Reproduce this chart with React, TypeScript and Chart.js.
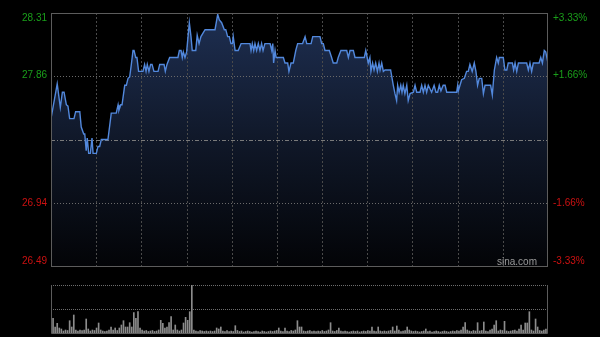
import { useEffect, useRef } from 'react';
import { Chart, registerables } from 'chart.js';

Chart.register(...registerables);

// ---- data ----
const prevClose = 27.4;
const priceMin = 26.49;
const priceMax = 28.31;
const priceTicks = [28.31, 27.86, 27.4, 26.94, 26.49];
const priceTickLabels = ['28.31', '27.86', '', '26.94', '26.49'];
const pctTickLabels = ['+3.33%', '+1.66%', '', '-1.66%', '-3.33%'];
const totalMinutes = 240;
const timeDivisions = 11;
const watermark = 'sina.com';

const minutes = [
  0, 3.0, 4.5, 5.5, 6.3, 7.4, 8.2, 9.0, 11.1, 11.9, 13.9, 14.6, 15.8, 16.3, 17.0, 17.5, 18.2, 19.0, 19.8, 20.3,
  21.9, 22.7, 23.5, 24.3, 27.5, 29.1, 31.5, 32.4, 32.8, 33.7, 34.3, 35.6, 36.4, 37.2, 38.0, 38.8, 39.6, 40.1, 40.9, 41.5,
  42.3, 44.4, 45.2, 45.9, 46.5, 47.3, 48.1, 48.8, 49.7, 51.7, 52.5, 54.6, 55.2, 56.0, 57.3, 61.3, 62.0, 62.8, 63.4, 63.9,
  64.7, 65.5, 66.8, 67.6, 68.2, 69.9, 70.6, 71.5, 72.4, 74.4, 79.2, 80.5, 81.3, 82.4, 83.7, 84.4, 85.3, 86.1, 86.9, 87.6,
  88.0, 88.9, 90.4, 91.8, 96.1, 96.6, 97.2, 97.9, 98.5, 99.3, 100.1, 100.9, 101.7, 102.4, 103.3, 105.8, 106.6, 107.1, 107.5, 108.2,
  108.7, 112.2, 113.0, 114.3, 114.9, 115.9, 117.0, 118.2, 119.1, 121.5, 122.7, 123.5, 125.6, 126.4, 129.9, 130.7, 131.5, 132.3, 134.4, 135.5,
  136.3, 138.0, 138.7, 140.0, 142.8, 143.6, 144.4, 146.0, 146.8, 151.3, 152.0, 153.2, 154.0, 154.5, 155.3, 156.0, 156.8, 157.6, 158.4, 158.9,
  159.7, 160.5, 161.3, 164.0, 165.3, 166.1, 166.9, 167.4, 168.1, 168.9, 169.5, 170.1, 170.9, 171.8, 172.5, 173.4, 175.0, 175.8, 176.6, 178.2,
  179.0, 179.8, 180.6, 181.4, 182.2, 183.8, 185.0, 185.9, 186.7, 187.5, 188.3, 189.4, 190.3, 191.1, 195.9, 196.4, 196.7, 197.5, 198.3, 199.6,
  200.7, 201.5, 202.3, 203.4, 204.4, 205.2, 206.0, 206.8, 208.0, 208.8, 209.6, 212.3, 213.1, 214.1, 215.2, 216.0, 216.5, 218.4, 219.2, 220.1,
  220.8, 222.8, 223.4, 224.1, 224.9, 225.7, 229.7, 230.5, 231.3, 232.1, 232.9, 235.7, 236.5, 237.3, 238.2, 238.9, 240,
];

const prices = [
  27.55, 27.8, 27.63, 27.74, 27.74, 27.65, 27.64, 27.55, 27.55, 27.6, 27.6, 27.49, 27.44, 27.44, 27.32, 27.41, 27.3, 27.3, 27.41, 27.3,
  27.3, 27.35, 27.35, 27.4, 27.4, 27.59, 27.59, 27.65, 27.61, 27.65, 27.65, 27.79, 27.79, 27.84, 27.85, 27.94, 28.04, 28.04, 27.99, 27.99,
  27.89, 27.89, 27.94, 27.89, 27.94, 27.89, 27.94, 27.94, 27.89, 27.89, 27.94, 27.94, 27.89, 27.94, 27.99, 27.99, 28.04, 28.04, 27.99, 28.03,
  27.99, 28.03, 28.24, 28.14, 28.04, 28.04, 28.15, 28.09, 28.14, 28.19, 28.19, 28.3, 28.26, 28.24, 28.19, 28.19, 28.14, 28.14, 28.09, 28.09,
  28.14, 28.04, 28.04, 28.09, 28.09, 28.04, 28.09, 28.04, 28.09, 28.04, 28.09, 28.04, 28.09, 28.04, 28.09, 28.09, 28.04, 28.09, 27.95, 28.04,
  27.99, 27.99, 27.95, 27.95, 27.89, 27.95, 27.95, 28.04, 28.09, 28.09, 28.14, 28.09, 28.09, 28.14, 28.14, 28.09, 28.09, 28.04, 28.04, 27.99,
  27.95, 27.95, 27.99, 28.04, 28.04, 27.99, 28.04, 28.04, 27.99, 27.99, 28.04, 27.95, 27.99, 27.89, 27.95, 27.9, 27.95, 27.89, 27.95, 27.9,
  27.95, 27.89, 27.9, 27.9, 27.79, 27.73, 27.68, 27.79, 27.74, 27.79, 27.74, 27.79, 27.73, 27.79, 27.68, 27.73, 27.74, 27.79, 27.74, 27.74,
  27.79, 27.74, 27.79, 27.74, 27.79, 27.74, 27.79, 27.74, 27.74, 27.79, 27.75, 27.79, 27.79, 27.74, 27.74, 27.79, 27.75, 27.79, 27.83, 27.84,
  27.89, 27.89, 27.94, 27.89, 27.95, 27.89, 27.79, 27.84, 27.84, 27.73, 27.79, 27.79, 27.72, 27.9, 27.99, 27.95, 27.99, 27.99, 27.9, 27.9,
  27.95, 27.95, 27.9, 27.95, 27.89, 27.95, 27.95, 27.9, 27.95, 27.89, 27.95, 27.95, 27.99, 27.95, 28.04, 28.03, 27.95,
];

const volumeMax = 4800;
const volumes = [
  1970, 1470, 600, 970, 500, 400, 200, 300, 250, 1230,
  600, 1800, 300, 200, 300, 250, 300, 1400, 400, 200,
  300, 250, 500, 1000, 300, 200, 150, 200, 300, 600,
  300, 500, 250, 500, 800, 1230, 600, 600, 1030, 600,
  2030, 1470, 2130, 500, 300, 200, 250, 150, 200, 250,
  150, 200, 300, 1270, 970, 500, 600, 1030, 1630, 300,
  800, 300, 200, 300, 1000, 1570, 1270, 2130, 4800, 300,
  200, 150, 250, 200, 150, 200, 150, 200, 150, 200,
  500, 400, 600, 200, 150, 250, 150, 200, 150, 730,
  250, 150, 200, 100, 150, 200, 150, 100, 150, 200,
  150, 100, 200, 150, 100, 150, 200, 150, 200, 250,
  500, 200, 150, 500, 200, 150, 250, 200, 300, 1230,
  600, 600, 200, 150, 200, 250, 150, 200, 150, 200,
  150, 250, 150, 200, 300, 1030, 200, 150, 250, 500,
  200, 150, 200, 150, 100, 150, 200, 150, 200, 100,
  150, 200, 150, 250, 200, 600, 200, 150, 600, 200,
  150, 200, 150, 200, 250, 600, 200, 700, 300, 150,
  200, 250, 600, 300, 200, 150, 200, 150, 100, 150,
  200, 400, 150, 200, 100, 150, 200, 150, 100, 150,
  200, 150, 100, 150, 200, 150, 250, 200, 300, 600,
  1030, 300, 200, 150, 250, 200, 1030, 200, 250, 1100,
  200, 150, 300, 400, 800, 1230, 200, 300, 250, 1170,
  200, 150, 200, 250, 300, 200, 400, 800, 300, 1000,
  1000, 2130, 300, 200, 1400, 600, 250, 200, 300, 400,
  3970,
];
const volumeLabels = volumes.map((_, i) => String(i));

// ---- styles ----
const FONT = '10px "Liberation Sans", Arial, sans-serif';
const GREEN = '#1a9f1a';
const RED = '#cc1111';
const FRAME = '#5c5c5c';

const priceDecor = {
  id: 'priceDecor',
  beforeDatasetDraw(chart: any) {
    const { ctx, chartArea: a, scales } = chart;
    const xs = scales.x;
    const ys = scales.y;
    ctx.save();
    ctx.lineWidth = 1;
    // vertical grid
    ctx.strokeStyle = '#4a4a4a';
    ctx.setLineDash([2, 2]);
    for (let i = 1; i < timeDivisions; i++) {
      const px = Math.round(xs.getPixelForValue((i * totalMinutes) / timeDivisions)) + 0.5;
      ctx.beginPath();
      ctx.moveTo(px, a.top);
      ctx.lineTo(px, a.bottom);
      ctx.stroke();
    }
    // horizontal grid
    priceTicks.forEach((v, i) => {
      if (i === 0 || i === priceTicks.length - 1) return;
      const py = Math.round(ys.getPixelForValue(v)) + 0.5;
      if (v === prevClose) {
        ctx.strokeStyle = '#7a7a7a';
        ctx.setLineDash([4, 2, 1, 2]);
      } else {
        ctx.strokeStyle = '#6a6a6a';
        ctx.setLineDash([1, 2]);
      }
      ctx.beginPath();
      ctx.moveTo(a.left, py);
      ctx.lineTo(a.right, py);
      ctx.stroke();
    });
    ctx.restore();
  },
  afterDraw(chart: any) {
    const { ctx, chartArea: a, scales } = chart;
    const ys = scales.y;
    ctx.save();
    ctx.lineWidth = 1;
    ctx.setLineDash([]);
    ctx.strokeStyle = FRAME;
    ctx.strokeRect(Math.round(a.left) + 0.5, Math.round(a.top) + 0.5, Math.round(a.right - a.left) - 1, Math.round(a.bottom - a.top));
    ctx.font = FONT;
    priceTicks.forEach((v, i) => {
      if (!priceTickLabels[i]) return;
      const py = ys.getPixelForValue(v);
      ctx.fillStyle = v > prevClose ? GREEN : RED;
      ctx.textBaseline = i === 0 ? 'top' : i === priceTicks.length - 1 ? 'bottom' : 'middle';
      ctx.textAlign = 'right';
      ctx.fillText(priceTickLabels[i], a.left - 4, py);
      ctx.textAlign = 'left';
      ctx.fillText(pctTickLabels[i], a.right + 5, py);
    });
    ctx.fillStyle = '#9a9a9a';
    ctx.textAlign = 'right';
    ctx.textBaseline = 'alphabetic';
    ctx.fillText(watermark, a.right - 11, a.bottom - 1);
    ctx.restore();
  },
};

const volumeDecor = {
  id: 'volumeDecor',
  beforeDatasetsDraw(chart: any) {
    const { ctx, chartArea: a, scales } = chart;
    const ys = scales.y;
    ctx.save();
    ctx.lineWidth = 1;
    ctx.strokeStyle = '#6e6e6e';
    ctx.setLineDash([1, 1]);
    [volumeMax, volumeMax / 2].forEach((v) => {
      const py = Math.round(ys.getPixelForValue(v)) + 0.5;
      ctx.beginPath();
      ctx.moveTo(a.left, py);
      ctx.lineTo(a.right, py);
      ctx.stroke();
    });
    ctx.restore();
  },
  afterDraw(chart: any) {
    const { ctx, chartArea: a } = chart;
    ctx.save();
    ctx.lineWidth = 1;
    ctx.strokeStyle = FRAME;
    const l = Math.round(a.left) + 0.5;
    const r = Math.round(a.right) - 0.5;
    const t = Math.round(a.top);
    const b = Math.round(a.bottom) + 0.5;
    ctx.beginPath();
    ctx.moveTo(l, t);
    ctx.lineTo(l, b);
    ctx.lineTo(r, b);
    ctx.lineTo(r, t);
    ctx.stroke();
    ctx.restore();
  },
};

export default function App() {
  const priceRef = useRef<HTMLCanvasElement>(null);
  const volRef = useRef<HTMLCanvasElement>(null);

  useEffect(() => {
    document.body.style.margin = '0';
    document.body.style.background = '#000';

    const priceChart = new Chart(priceRef.current!, {
      type: 'line',
      data: {
        datasets: [
          {
            data: minutes.map((m, i) => ({ x: m, y: prices[i] })),
            borderColor: '#5288dc',
            borderWidth: 1.4,
            pointRadius: 0,
            tension: 0,
            fill: 'start',
            backgroundColor: (c: any) => {
              const area = c.chart.chartArea;
              if (!area) return 'rgba(0,0,0,0)';
              const g = c.chart.ctx.createLinearGradient(0, area.top, 0, area.bottom);
              g.addColorStop(0, 'rgb(30,47,82)');
              g.addColorStop(0.5, 'rgb(16,24,41)');
              g.addColorStop(1, 'rgb(3,4,7)');
              return g;
            },
          },
        ],
      },
      options: {
        responsive: false,
        animation: false,
        events: [],
        layout: { padding: { left: 51, right: 52, top: 13, bottom: 9 } },
        scales: {
          x: { type: 'linear', min: 0, max: totalMinutes, display: false },
          y: { min: priceMin, max: priceMax, display: false },
        },
        plugins: {
          legend: { display: false },
          tooltip: { enabled: false },
          filler: { drawTime: 'beforeDatasetsDraw' },
        },
      } as any,
      plugins: [priceDecor],
    });

    const volChart = new Chart(volRef.current!, {
      type: 'bar',
      data: {
        labels: volumeLabels,
        datasets: [
          {
            data: volumes,
            backgroundColor: '#8c8c8c',
            barThickness: 1,
          },
        ],
      },
      options: {
        responsive: false,
        animation: false,
        events: [],
        layout: { padding: { left: 51, right: 52, top: 5, bottom: 4 } },
        scales: {
          x: { display: false, offset: false },
          y: { min: 0, max: volumeMax, display: false },
        },
        plugins: { legend: { display: false }, tooltip: { enabled: false } },
      } as any,
      plugins: [volumeDecor],
    });

    return () => {
      priceChart.destroy();
      volChart.destroy();
    };
  }, []);

  return (
    <div style={{ position: 'relative', width: 600, height: 337, background: '#000', overflow: 'hidden' }}>
      <canvas ref={priceRef} width={600} height={275} style={{ position: 'absolute', left: 0, top: 0 }} />
      <canvas ref={volRef} width={600} height={57} style={{ position: 'absolute', left: 0, top: 280 }} />
    </div>
  );
}
